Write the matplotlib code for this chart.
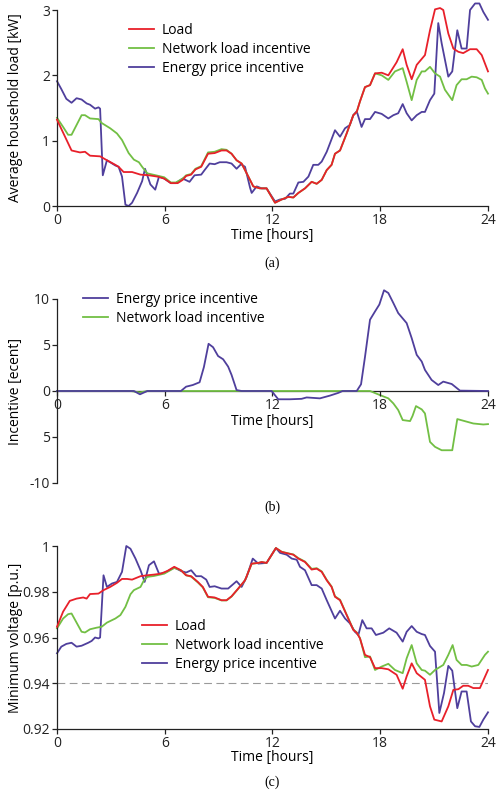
import matplotlib
matplotlib.use("Agg")
import matplotlib.pyplot as plt

plt.rcParams['font.family'] = ['Open Sans', 'DejaVu Sans']
plt.rcParams['font.size'] = 10

RED = '#e8202a'
GREEN = '#72bf44'
BLUE = '#4f3f9c'
FS = 10

# ---------------- (a) average household load [kW] ----------------
load_h = [0.0, 0.81, 1.28, 1.56, 1.84, 2.40, 2.78, 3.25, 3.43, 3.71, 4.18, 4.65, 5.12, 5.59, 5.97,
          6.34, 6.72, 7.0, 7.19, 7.47, 7.71, 8.03, 8.41, 8.78, 9.16, 9.44, 9.72, 10.0, 10.28,
          10.47, 10.93, 11.3, 11.67, 12.14, 12.51, 12.88, 13.16, 13.44, 13.81, 14.18, 14.46, 14.74,
          15.02, 15.29, 15.48, 15.76, 16.13, 16.5, 16.69, 16.87, 17.15, 17.43, 17.71, 18.08, 18.45,
          18.91, 19.25, 19.47, 19.75, 20.03, 20.49, 20.77, 21.05, 21.33, 21.51, 21.79, 22.07, 22.35,
          22.62, 23.0, 23.37, 23.65, 24.0]
load_kw = [1.32, 0.85, 0.82, 0.83, 0.77, 0.76, 0.70, 0.63, 0.60, 0.52, 0.52, 0.48, 0.47, 0.45, 0.42,
           0.35, 0.35, 0.40, 0.46, 0.48, 0.56, 0.60, 0.80, 0.81, 0.85, 0.85, 0.80, 0.70, 0.65,
           0.55, 0.30, 0.27, 0.27, 0.05, 0.10, 0.14, 0.13, 0.20, 0.27, 0.37, 0.34, 0.40,
           0.55, 0.63, 0.80, 0.85, 1.11, 1.39, 1.44, 1.60, 1.82, 1.85, 2.03, 2.04, 2.00,
           2.20, 2.40, 2.16, 1.94, 2.16, 2.31, 2.69, 3.01, 3.03, 3.00, 2.64, 2.41, 2.36,
           2.34, 2.40, 2.40, 2.31, 2.06]

netinc_h = [0.0, 0.34, 0.62, 0.81, 1.09, 1.37, 1.56, 1.84, 2.31, 2.49, 2.96, 3.34, 3.62, 3.99, 4.28,
            4.56, 4.74, 5.03, 5.5, 5.97, 6.34, 6.62, 7.0, 7.19, 7.47, 7.71, 8.03, 8.41, 8.78,
            9.16, 9.44, 9.72, 10.0, 10.28, 10.47, 10.93, 11.3, 11.67, 12.14, 12.51, 12.88, 13.16,
            13.44, 13.81, 14.18, 14.46, 14.74, 15.02, 15.29, 15.48, 15.76, 16.13, 16.5, 16.69, 16.87,
            17.15, 17.43, 17.71, 18.08, 18.45, 18.82, 19.25, 19.47, 19.75, 20.03, 20.31, 20.49, 20.77,
            21.05, 21.33, 21.6, 22.01, 22.25, 22.53, 22.81, 23.09, 23.37, 23.65, 23.83, 24.0]
netinc_kw = [1.35, 1.21, 1.09, 1.09, 1.24, 1.39, 1.39, 1.34, 1.33, 1.27, 1.19, 1.11, 1.01, 0.81, 0.71,
             0.67, 0.60, 0.50, 0.47, 0.44, 0.36, 0.36, 0.42, 0.47, 0.49, 0.57, 0.61, 0.82, 0.83,
             0.87, 0.86, 0.80, 0.70, 0.65, 0.55, 0.30, 0.27, 0.27, 0.05, 0.10, 0.14, 0.13,
             0.20, 0.27, 0.37, 0.34, 0.40, 0.55, 0.63, 0.80, 0.85, 1.11, 1.39, 1.44, 1.60,
             1.82, 1.85, 2.03, 2.00, 1.93, 2.06, 2.11, 1.90, 1.62, 1.93, 2.06, 2.06, 2.13,
             2.03, 1.98, 1.78, 1.62, 1.85, 1.94, 1.94, 1.98, 1.97, 1.93, 1.80, 1.72]

priceinc_h = [0.0, 0.24, 0.52, 0.81, 1.09, 1.37, 1.65, 1.84, 2.12, 2.31, 2.40, 2.55, 2.78, 3.25, 3.43,
              3.62, 3.81, 3.99, 4.18, 4.46, 4.74, 4.9, 5.2, 5.47, 5.68, 5.97, 6.34, 6.62, 7.0,
              7.38, 7.66, 8.03, 8.22, 8.5, 8.78, 9.06, 9.44, 9.72, 10.0, 10.25, 10.47, 10.75,
              10.84, 11.12, 11.4, 11.67, 12.14, 12.42, 12.7, 12.97, 13.16, 13.44, 13.72, 14.0, 14.27,
              14.55, 14.74, 15.02, 15.48, 15.76, 16.04, 16.31, 16.5, 16.69, 16.96, 17.15, 17.43, 17.71,
              18.08, 18.45, 18.73, 19.0, 19.25, 19.47, 19.75, 20.03, 20.31, 20.49, 20.77, 21.01, 21.23,
              21.42, 21.79, 22.01, 22.29, 22.53, 22.81, 23.0, 23.28, 23.52, 23.74, 24.0]
priceinc_kw = [1.91, 1.79, 1.64, 1.58, 1.65, 1.63, 1.57, 1.55, 1.49, 1.51, 1.49, 0.47, 0.70, 0.62, 0.60,
               0.45, 0.02, 0.0, 0.05, 0.20, 0.38, 0.57, 0.33, 0.25, 0.45, 0.42, 0.35, 0.35, 0.42,
               0.37, 0.47, 0.48, 0.55, 0.65, 0.64, 0.67, 0.67, 0.65, 0.57, 0.64, 0.60, 0.28,
               0.20, 0.30, 0.27, 0.27, 0.07, 0.10, 0.11, 0.19, 0.19, 0.36, 0.37, 0.45, 0.63,
               0.63, 0.68, 0.83, 1.16, 1.06, 1.19, 1.24, 1.39, 1.45, 1.21, 1.33, 1.33, 1.44,
               1.41, 1.34, 1.39, 1.42, 1.56, 1.42, 1.31, 1.39, 1.44, 1.44, 1.62, 1.72, 2.80,
               2.49, 1.98, 2.06, 2.69, 2.41, 2.41, 3.00, 3.10, 3.10, 2.97, 2.85]

# ---------------- (b) incentive [ecent] ----------------
price_sig_h = [0.0, 4.28, 4.62, 5.03, 6.9, 7.19, 7.56, 7.94, 8.18, 8.44, 8.69, 8.97, 9.25, 9.53,
               9.72, 10.0, 10.28, 11.95, 12.32, 12.97, 13.62, 13.9, 14.64, 15.2, 15.67, 15.9, 16.69,
               16.93, 17.15, 17.43, 17.71, 17.95, 18.21, 18.45, 18.73, 19.0, 19.47, 19.75, 20.03,
               20.31, 20.49, 20.86, 21.23, 21.51, 21.98, 22.44, 24.0]
price_sig = [0.0, 0.0, -0.36, 0.0, 0.0, 0.47, 0.65, 0.95, 2.6, 5.13, 4.76, 3.8, 3.45, 2.65,
             1.75, 0.1, 0.0, 0.0, -0.9, -0.9, -0.85, -0.7, -0.8, -0.5, -0.2, 0.0, 0.0,
             0.73, 3.7, 7.75, 8.65, 9.4, 10.95, 10.65, 9.56, 8.47, 7.38, 5.75, 3.93,
             3.2, 2.29, 1.2, 0.65, 1.02, 0.76, 0.04, 0.0]

net_sig_h = [0.0, 4.1, 4.6, 5.05, 17.43, 17.98, 18.45, 18.73, 19.0, 19.25, 19.66, 19.8, 19.99,
             20.31, 20.49, 20.77, 21.05, 21.42, 22.01, 22.29, 23.18, 23.74, 24.0]
net_sig = [0.0, 0.0, -0.15, 0.0, 0.0, -0.44, -0.8, -1.35, -2.07, -3.16, -3.27, -2.7, -1.64,
           -2.0, -2.44, -5.53, -6.07, -6.44, -6.44, -3.05, -3.53, -3.64, -3.6]

# ---------------- (c) minimum voltage [p.u.] ----------------
vload_h = [0.0, 0.34, 0.71, 1.09, 1.46, 1.65, 1.84, 2.31, 2.59, 2.96, 3.34, 3.62, 3.9, 4.18, 4.65,
           5.03, 5.4, 5.78, 6.15, 6.53, 6.9, 7.19, 7.47, 7.84, 8.12, 8.41, 8.78, 9.16, 9.44, 9.72,
           10.09, 10.47, 10.84, 11.21, 11.4, 11.67, 12.19, 12.51, 12.88, 13.16, 13.44, 13.81, 14.18,
           14.46, 14.74, 15.02, 15.29, 15.48, 15.76, 16.13, 16.5, 16.69, 16.87, 17.15, 17.43, 17.71,
           18.08, 18.45, 18.91, 19.25, 19.47, 19.75, 20.03, 20.49, 20.77, 21.01, 21.42, 21.79, 22.07,
           22.35, 22.62, 22.9, 23.18, 23.55, 24.0]
vload = [0.9647, 0.9713, 0.976, 0.977, 0.9775, 0.977, 0.979, 0.9792, 0.9807, 0.9821, 0.9839, 0.9856,
         0.9856, 0.9853, 0.9868, 0.9872, 0.9875, 0.9879, 0.9891, 0.9909, 0.9894, 0.9872, 0.9868,
         0.9843, 0.9821, 0.9778, 0.9775, 0.9763, 0.9763, 0.978, 0.9814, 0.985, 0.9923, 0.9926,
         0.993, 0.9926, 0.9991, 0.9974, 0.9967, 0.9962, 0.9945, 0.993, 0.9897, 0.9901, 0.9887,
         0.985, 0.9821, 0.9778, 0.9763, 0.9698, 0.9633, 0.9621, 0.9596, 0.9524, 0.9514, 0.9466,
         0.9466, 0.9461, 0.9437, 0.9376, 0.943, 0.9487, 0.9444, 0.9415, 0.9299, 0.9241, 0.9233,
         0.9299, 0.9371, 0.9374, 0.9389, 0.9389, 0.9379, 0.9379, 0.9458]

vnet_h = [0.0, 0.34, 0.62, 0.81, 1.09, 1.37, 1.56, 1.84, 2.21, 2.49, 2.78, 3.25, 3.53, 3.81, 4.09,
          4.28, 4.65, 4.84, 5.03, 5.4, 5.97, 6.15, 6.53, 6.9, 7.19, 7.47, 7.84, 8.12, 8.41, 8.78,
          9.16, 9.44, 9.72, 10.09, 10.47, 10.84, 11.21, 11.4, 11.67, 12.19, 12.51, 12.88, 13.16,
          13.44, 13.81, 14.18, 14.46, 14.74, 15.02, 15.29, 15.48, 15.76, 16.13, 16.5, 16.69, 16.87,
          17.15, 17.43, 17.71, 18.08, 18.45, 18.82, 19.25, 19.47, 19.75, 20.03, 20.31, 20.49, 20.77,
          21.05, 21.51, 21.79, 22.03, 22.25, 22.53, 22.81, 23.09, 23.46, 23.83, 24.0]
vnet = [0.964, 0.9683, 0.9702, 0.9705, 0.9665, 0.9625, 0.9622, 0.9636, 0.9643, 0.9647, 0.9665,
        0.9683, 0.9698, 0.9734, 0.9789, 0.9807, 0.9821, 0.985, 0.9865, 0.9869, 0.9879, 0.9887,
        0.9904, 0.9894, 0.9872, 0.9866, 0.9841, 0.9819, 0.9776, 0.9773, 0.9762, 0.9762, 0.9779,
        0.9813, 0.985, 0.9922, 0.9926, 0.993, 0.9926, 0.9991, 0.9975, 0.9968, 0.9963, 0.9947,
        0.9932, 0.99, 0.9903, 0.9889, 0.9852, 0.9823, 0.978, 0.9765, 0.97, 0.9635, 0.9622, 0.9598,
        0.9514, 0.9517, 0.9458, 0.9473, 0.9485, 0.9458, 0.9444, 0.9509, 0.9567, 0.9487, 0.9458,
        0.9455, 0.9437, 0.9458, 0.948, 0.9524, 0.9567, 0.9502, 0.948, 0.948, 0.9473, 0.948,
        0.9524, 0.9538]

vprice_h = [0.0, 0.24, 0.52, 0.81, 1.09, 1.37, 1.74, 1.93, 2.12, 2.31, 2.4, 2.59, 2.78, 3.06, 3.34,
            3.62, 3.86, 4.09, 4.37, 4.65, 4.88, 5.12, 5.4, 5.68, 5.97, 6.53, 6.9, 7.19, 7.47, 7.75,
            8.03, 8.31, 8.5, 8.78, 9.16, 9.53, 10.0, 10.28, 10.56, 10.9, 11.21, 11.67, 12.19, 12.42,
            12.79, 13.07, 13.35, 13.53, 13.81, 14.18, 14.46, 14.74, 15.02, 15.48, 15.76, 16.04, 16.31,
            16.59, 16.78, 17.0, 17.24, 17.52, 17.76, 18.17, 18.5, 18.91, 19.25, 19.47, 19.75, 20.03,
            20.31, 20.49, 20.77, 21.05, 21.29, 21.55, 21.79, 22.01, 22.29, 22.53, 22.81, 23.05, 23.28,
            23.52, 23.74, 24.0]
vprice = [0.9531, 0.956, 0.9572, 0.9577, 0.956, 0.9564, 0.9577, 0.9585, 0.96, 0.9596, 0.96, 0.9872,
          0.9821, 0.9836, 0.9843, 0.9887, 1.0, 0.9988, 0.9945, 0.9894, 0.9843, 0.9916, 0.9933,
          0.9879, 0.9882, 0.9906, 0.9891, 0.9884, 0.9894, 0.9868, 0.9868, 0.9853, 0.9821, 0.9824,
          0.9814, 0.9814, 0.9846, 0.9821, 0.9865, 0.9945, 0.9923, 0.9926, 0.9991, 0.997, 0.9962,
          0.9945, 0.994, 0.9909, 0.9894, 0.9829, 0.9829, 0.9814, 0.9763, 0.9683, 0.9717, 0.9683,
          0.9662, 0.9625, 0.9611, 0.9676, 0.964, 0.964, 0.9611, 0.9621, 0.964, 0.9621, 0.9582,
          0.9625, 0.965, 0.9625, 0.9615, 0.9611, 0.9563, 0.9538, 0.927, 0.9357, 0.9476, 0.9455,
          0.9291, 0.9364, 0.9364, 0.9233, 0.9212, 0.9209, 0.9241, 0.9273]

voltage_limit = 0.94

hour_ticks = [0, 6, 12, 18, 24]

W, H = 496, 793
fig = plt.figure(figsize=(W / 100, H / 100), dpi=100)


def px_axes(x0, x1, ytop, ybot):
    return fig.add_axes([x0 / W, 1 - ybot / H, (x1 - x0) / W, (ybot - ytop) / H])


def style(ax):
    for s in ('top', 'right'):
        ax.spines[s].set_visible(False)
    for s in ('left', 'bottom'):
        ax.spines[s].set_linewidth(0.9)
        ax.spines[s].set_color('#222222')
    ax.tick_params(direction='out', length=3.5, width=0.9, colors='#222222',
                   labelsize=FS, pad=1.5)
    ax.set_xlim(0, 24)
    ax.set_xticks(hour_ticks)


def legend(ax, handles, labels, x, ytop):
    ax.legend(handles, labels, loc='upper left', bbox_to_anchor=(x / W, 1 - ytop / H),
              bbox_transform=fig.transFigure, frameon=False, borderpad=0,
              handlelength=1.8, handletextpad=0.55, labelspacing=0.28, fontsize=FS,
              borderaxespad=0)


serif = ['Liberation Serif', 'DejaVu Serif']

# ---- panel (a)
ax1 = px_axes(57, 488, 10, 206)
style(ax1)
lw = 1.3
l1, = ax1.plot(load_h, load_kw, color=RED, lw=lw, clip_on=False, zorder=3)
l2, = ax1.plot(netinc_h, netinc_kw, color=GREEN, lw=lw, clip_on=False, zorder=2)
l3, = ax1.plot(priceinc_h, priceinc_kw, color=BLUE, lw=lw, clip_on=False, zorder=1)
ax1.set_ylim(0, 3)
ax1.set_yticks([0, 1, 2, 3])
legend(ax1, [l1, l2, l3], ['Load', 'Network load incentive', 'Energy price incentive'], 129, 23)
fig.text(272 / W, 1 - 236 / H, 'Time [hours]', ha='center', va='center', fontsize=FS)
fig.text(16 / W, 1 - 108 / H, 'Average household load [kW]', rotation=90,
         ha='center', va='center', fontsize=FS)
fig.text(272 / W, 1 - 263 / H, '(a)', ha='center', va='center', fontsize=10, family=serif)

# ---- panel (b)
ax2 = px_axes(57, 488, 299, 483)
style(ax2)
ax2.set_ylim(-10, 10)
ax2.spines['bottom'].set_position(('data', 0))
ax2.spines['bottom'].set_zorder(0.5)
b1, = ax2.plot(price_sig_h, price_sig, color=BLUE, lw=lw, zorder=2, clip_on=False)
b2, = ax2.plot(net_sig_h, net_sig, color=GREEN, lw=lw, zorder=1, clip_on=False)
ax2.set_yticks([10, 5, 0, -5, -10])
ax2.set_yticklabels(['10', '5', '0', '5', '-10'])
legend(ax2, [b1, b2], ['Energy price incentive', 'Network load incentive'], 83, 292)
fig.text(272 / W, 1 - 422 / H, 'Time [hours]', ha='center', va='center', fontsize=FS)
fig.text(16 / W, 1 - 392 / H, 'Incentive [ecent]', rotation=90,
         ha='center', va='center', fontsize=FS)
fig.text(272 / W, 1 - 507 / H, '(b)', ha='center', va='center', fontsize=10, family=serif)

# ---- panel (c)
ax3 = px_axes(57, 488, 546, 729)
style(ax3)
ax3.set_ylim(0.92, 1.0)
ax3.set_yticks([0.92, 0.94, 0.96, 0.98, 1.0])
ax3.set_yticklabels(['0.92', '0.94', '0.96', '0.98', '1'])
ax3.axhline(voltage_limit, color='#9a9a9a', lw=0.8, dashes=(7, 4), zorder=0)
c1, = ax3.plot(vload_h, vload, color=RED, lw=lw, clip_on=False, zorder=3)
c2, = ax3.plot(vnet_h, vnet, color=GREEN, lw=lw, clip_on=False, zorder=2)
c3, = ax3.plot(vprice_h, vprice, color=BLUE, lw=lw, clip_on=False, zorder=1)
legend(ax3, [c1, c2, c3], ['Load', 'Network load incentive', 'Energy price incentive'], 142, 619)
fig.text(272 / W, 1 - 757 / H, 'Time [hours]', ha='center', va='center', fontsize=FS)
fig.text(16 / W, 1 - 638 / H, 'Minimum voltage [p.u.]', rotation=90,
         ha='center', va='center', fontsize=FS)
fig.text(272 / W, 1 - 782 / H, '(c)', ha='center', va='center', fontsize=10, family=serif)

fig.savefig('out.png', dpi=100)
